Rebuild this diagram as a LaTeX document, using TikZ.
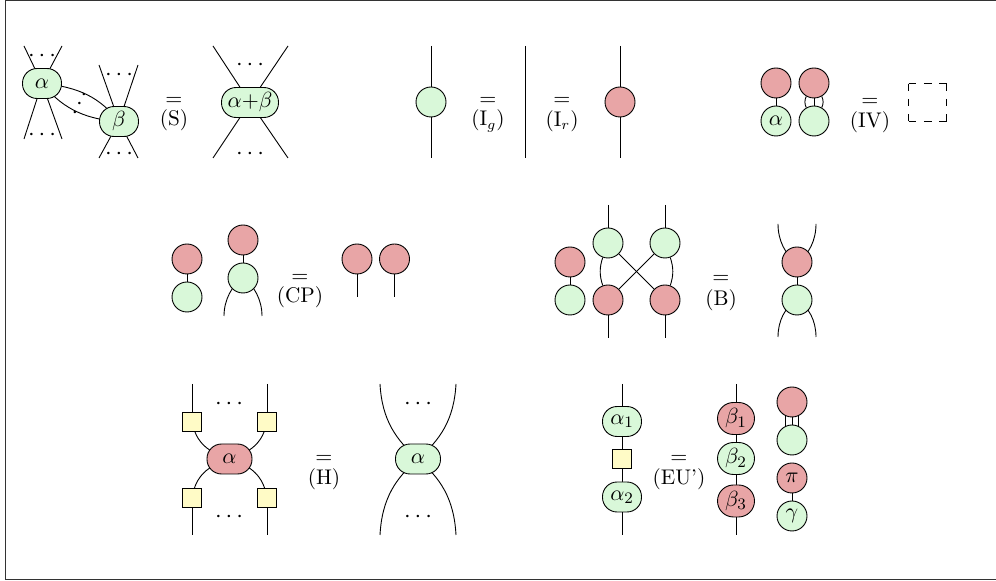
\documentclass[tikz,border=0pt]{standalone}
\usetikzlibrary{backgrounds}
\definecolor{gfill}{HTML}{D9F8D9}
\definecolor{rfill}{HTML}{E8A5A6}
\definecolor{yfill}{HTML}{FFFBC6}
\tikzset{
 x=0.5pt,y=-0.5pt,
 nd/.style={draw,line width=0.45pt,inner sep=0pt,font=\fontsize{11}{13}\selectfont},
 gc/.style={nd,circle,fill=gfill,minimum size=15pt},
 rc/.style={nd,circle,fill=rfill,minimum size=15pt},
 gb/.style={nd,rectangle,rounded corners=7.3pt,fill=gfill,minimum width=#1,minimum height=15pt},
 gb/.default=19.5pt,
 rb/.style={nd,rectangle,rounded corners=7.3pt,fill=rfill,minimum width=#1,minimum height=15pt},
 rb/.default=19.5pt,
 sq/.style={nd,rectangle,fill=yfill,minimum size=9.5pt},
 eqs/.style={inner sep=0pt,font=\fontsize{10.6}{13}\selectfont},
 dts/.style={inner sep=0pt,yshift=-1.2pt,font=\fontsize{12}{14}\selectfont},
 wire/.style={line width=0.45pt},
 dashside/.style={line width=0.45pt,dash pattern=on 3.8pt off 3.8pt},
}
\begin{document}
\begin{tikzpicture}
\useasboundingbox (0,0) rectangle (996,581);
% frame
\draw[line width=0.5pt,color=black!80] (996,0.5) -- (5.5,0.5) -- (5.5,580) -- (996,580);

% --- S ---
\node[gb] (a) at (42,83.5) {$\alpha$};
\node[gb] (b) at (119,121.5) {$\beta$};
\node[gb=28.5pt] (ab) at (250,102.5) {$\alpha{+}\beta$};
\coordinate (a1) at (24,46); \coordinate (a2) at (62,46);
\coordinate (a3) at (24,139); \coordinate (a4) at (62,139);
\coordinate (b1) at (99,65); \coordinate (b2) at (138,65);
\coordinate (b3) at (99,158); \coordinate (b4) at (138,158);
\coordinate (c1) at (213,46); \coordinate (c2) at (288,46);
\coordinate (c3) at (213,158); \coordinate (c4) at (288,158);
\node[dts] (d1) at (42,54) {$\cdots$};
\node[dts] (d2) at (42,133) {$\cdots$};
\node[dts] (d3) at (119,73) {$\cdots$};
\node[dts] (d4) at (119,152) {$\cdots$};
\node[dts] (d5a) at (84,93) {$\cdot$};
\node[dts] (d5b) at (79.5,102) {$\cdot$};
\node[dts] (d5c) at (75,111) {$\cdot$};
\node[dts] (d6) at (250,63) {$\cdots$};
\node[dts] (d7) at (250,152) {$\cdots$};
\node[eqs] (e1) at (174,101) {$=$};
\node[eqs] (l1) at (174,120) {(S)};

% --- Ig / Ir ---
\node[gc] (ig) at (431,102) {};
\coordinate (ig1) at (431,46); \coordinate (ig2) at (431,158);
\node[eqs] (e2) at (488,101) {$=$};
\node[eqs] (l2) at (488,121) {(I$_g$)};
\coordinate (m1) at (525,46); \coordinate (m2) at (525,158);
\node[eqs] (e3) at (562,101) {$=$};
\node[eqs] (l3) at (562,121) {(I$_r$)};
\node[rc] (ir) at (620,102) {};
\coordinate (ir1) at (620,46); \coordinate (ir2) at (620,158);

% --- IV ---
\node[rc] (iv1) at (776,83) {};
\node[gc] (iv2) at (776,121) {$\alpha$};
\node[rc] (iv3) at (814,83) {};
\node[gc] (iv4) at (814,121) {};
\node[eqs] (e4) at (870,102) {$=$};
\node[eqs] (l4) at (870,122) {(IV)};
\coordinate (q1) at (908.7,83.7); \coordinate (q2) at (946.7,83.7);
\coordinate (q3) at (946.7,121); \coordinate (q4) at (908.7,121);
\draw[dashside] (q1) -- (q2);
\draw[dashside] (q2) -- (q3);
\draw[dashside] (q4) -- (q3);
\draw[dashside] (q1) -- (q4);

% --- CP ---
\node[rc] (cp1) at (187,259) {};
\node[gc] (cp2) at (187,297) {};
\node[rc] (cp3) at (243,240) {};
\node[gc] (cp4) at (243,278) {};
\coordinate (cpa) at (224,316); \coordinate (cpb) at (262,316);
\node[eqs] (e5) at (300,278) {$=$};
\node[eqs] (l5) at (300,297) {(CP)};
\node[rc] (cp5) at (357,259) {};
\node[rc] (cp6) at (394.5,259) {};
\coordinate (cpc) at (357,297); \coordinate (cpd) at (394.5,297);

% --- B ---
\node[rc] (b1n) at (570,262) {};
\node[gc] (b2n) at (570,300) {};
\node[gc] (b3n) at (608,243) {};
\node[gc] (b4n) at (665,243) {};
\node[rc] (b5n) at (608,300) {};
\node[rc] (b6n) at (665,300) {};
\coordinate (bt1) at (608,205); \coordinate (bt2) at (665,205);
\coordinate (bb1) at (608,338); \coordinate (bb2) at (665,338);
\node[eqs] (e6) at (721,279) {$=$};
\node[eqs] (l6) at (721,300) {(B)};
\node[rc] (b7n) at (797,262) {};
\node[gc] (b8n) at (797,300) {};
\coordinate (br1) at (778,224); \coordinate (br2) at (816,224);
\coordinate (br3) at (778,337); \coordinate (br4) at (816,337);

% --- H ---
\node[rb=22.5pt] (ha) at (229.5,459) {$\alpha$};
\node[sq] (s1) at (192,421.5) {};
\node[sq] (s2) at (267,421.5) {};
\node[sq] (s3) at (192,497.5) {};
\node[sq] (s4) at (267,497.5) {};
\coordinate (h1) at (192,384); \coordinate (h2) at (267,384);
\coordinate (h3) at (192,535); \coordinate (h4) at (267,535);
\node[dts] (d8) at (229,402) {$\cdots$};
\node[dts] (d9) at (229,515) {$\cdots$};
\node[eqs] (e7) at (324,459) {$=$};
\node[eqs] (l7) at (324,479) {(H)};
\node[gb=22.5pt] (hb) at (418,459) {$\alpha$};
\coordinate (hr1) at (380,384); \coordinate (hr2) at (456,384);
\coordinate (hr3) at (380,535); \coordinate (hr4) at (456,535);
\node[dts] (d10) at (418,402) {$\cdots$};
\node[dts] (d11) at (418,515) {$\cdots$};

% --- EU' ---
\node[gb] (u1) at (622,421.5) {$\alpha_1$};
\node[sq] (u2) at (622,459) {};
\node[gb] (u3) at (622,497) {$\alpha_2$};
\coordinate (ut) at (622,384); \coordinate (ub) at (622,535);
\node[eqs] (e8) at (679,459) {$=$};
\node[eqs] (l8) at (679,479) {(EU')};
\node[rb=18.5pt,minimum height=16pt,rounded corners=8pt] (v1) at (736,418.5) {$\beta_1$};
\node[gb=18.5pt,minimum height=16pt,rounded corners=8pt] (v2) at (736,458.5) {$\beta_2$};
\node[rb=18.5pt,minimum height=16pt,rounded corners=8pt] (v3) at (736,501) {$\beta_3$};
\coordinate (vt) at (736,384); \coordinate (vb) at (736,535);
\node[rc] (w1) at (792,402) {};
\node[gc] (w2) at (792,440) {};
\node[rc] (w3) at (792,478) {$\pi$};
\node[gc] (w4) at (792,516) {$\gamma$};

\begin{pgfonlayer}{background}
\begin{scope}[wire]
% S
\draw (a.center) -- (a1); \draw (a.center) -- (a2);
\draw (a.center) -- (a3); \draw (a.center) -- (a4);
\draw (b.center) -- (b1); \draw (b.center) -- (b2);
\draw (b.center) -- (b3); \draw (b.center) -- (b4);
\draw (a.center) .. controls (80,87) and (100,98) .. (b.center);
\draw (a.center) .. controls (60,105) and (80,119) .. (b.center);
\draw (ab.center) -- (c1); \draw (ab.center) -- (c2);
\draw (ab.center) -- (c3); \draw (ab.center) -- (c4);
% I
\draw (ig1) -- (ig2);
\draw (m1) -- (m2);
\draw (ir1) -- (ir2);
% IV
\draw (iv1) -- (iv2);
\draw (iv3) -- (iv4);
\draw (iv3.-120) to[bend right=25] (iv4.120);
\draw (iv3.-60) to[bend left=25] (iv4.60);
% CP
\draw (cp1) -- (cp2);
\draw (cp3) -- (cp4);
\draw (cp4.center) .. controls (232,285) and (224,300) .. (cpa);
\draw (cp4.center) .. controls (254,285) and (262,300) .. (cpb);
\draw (cp5) -- (cpc);
\draw (cp6) -- (cpd);
% B
\draw (b1n) -- (b2n);
\draw (bt1) -- (b3n); \draw (bt2) -- (b4n);
\draw (b5n) -- (bb1); \draw (b6n) -- (bb2);
\draw (b3n) -- (b6n); \draw (b4n) -- (b5n);
\draw (b3n.-110) to[bend right=18] (b5n.110);
\draw (b4n.-70) to[bend left=18] (b6n.70);
\draw (b7n) -- (b8n);
\draw (b7n.center) .. controls (785,255) and (778,240) .. (br1);
\draw (b7n.center) .. controls (809,255) and (816,240) .. (br2);
\draw (b8n.center) .. controls (785,307) and (778,321) .. (br3);
\draw (b8n.center) .. controls (809,307) and (816,321) .. (br4);
% H
\draw (h1) -- (s1); \draw (h2) -- (s2);
\draw (s3) -- (h3); \draw (s4) -- (h4);
\draw (s1.center) .. controls (196,443) and (208,452) .. (ha.center);
\draw (s2.center) .. controls (263,443) and (251,452) .. (ha.center);
\draw (s3.center) .. controls (196,475) and (208,466) .. (ha.center);
\draw (s4.center) .. controls (263,475) and (251,466) .. (ha.center);
\draw (hr1) .. controls (382,420) and (396,440) .. (hb.center);
\draw (hr2) .. controls (454,420) and (440,440) .. (hb.center);
\draw (hr3) .. controls (382,498) and (396,478) .. (hb.center);
\draw (hr4) .. controls (454,498) and (440,478) .. (hb.center);
% EU'
\draw (ut) -- (u1); \draw (u1) -- (u2); \draw (u2) -- (u3); \draw (u3) -- (ub);
\draw (vt) -- (v1); \draw (v1) -- (v2); \draw (v2) -- (v3); \draw (v3) -- (vb);
\draw (w1) -- (w2);
\draw (w1.-115) -- (w2.115);
\draw (w1.-65) -- (w2.65);
\draw (w3) -- (w4);
\end{scope}
\end{pgfonlayer}
\end{tikzpicture}
\end{document}
